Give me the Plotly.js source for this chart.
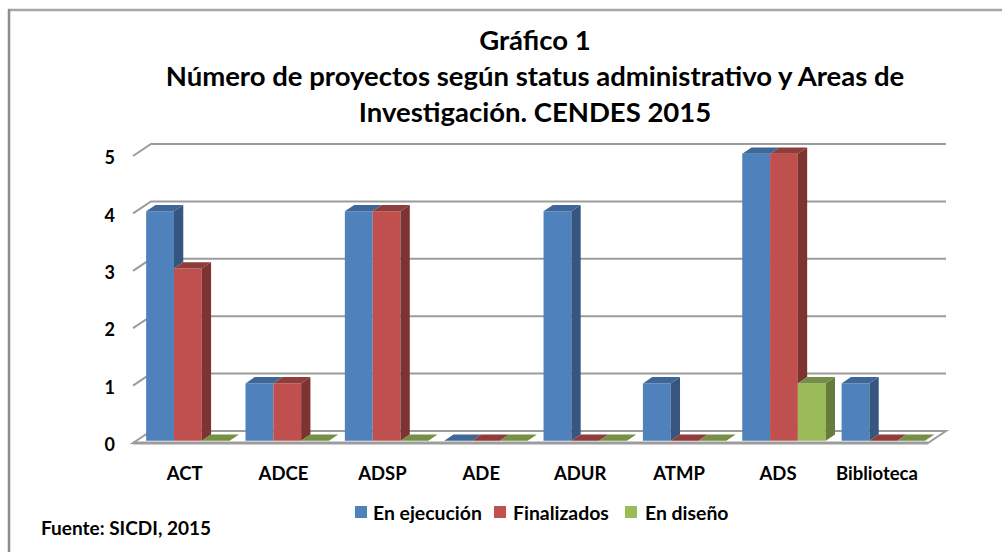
<!DOCTYPE html>
<html>
<head>
<meta charset="utf-8">
<script src="https://cdn.plot.ly/plotly-3.0.1.min.js"></script>
<style>html,body{margin:0;padding:0;background:#fff;overflow:hidden}</style>
</head>
<body>
<div id="chart" style="width:1002px;height:552px"></div>
<script>
// ---- data ----
const categories = ["ACT","ADCE","ADSP","ADE","ADUR","ATMP","ADS","Biblioteca"];
const enEjecucion = [4,1,4,0,4,1,5,1];
const finalizados = [3,1,4,0,0,0,5,0];
const enDiseno    = [0,0,0,0,0,0,1,0];
const yTicks = [0,1,2,3,4,5];
const seriesNames = ["En ejecución","Finalizados","En diseño"];

// ---- styling ----
const FONT = "Lato, Carlito, 'Open Sans', sans-serif";
const front = ["#4F81BD","#C0504D","#9BBB59"];
const side  = ["#36567F","#7C3331","#667C3A"];
const top_  = ["#3E6797","#8F3C3A","#758F45"];
const GRID = "#9C9C9C";

// pixel frame of the plot area
const L=125, R=955, T=125, B=450;
const X0PX=138.2, XSTEP=99.35, Y0PX=440.8, YSTEP=57.4;
const xOf = px => (px-X0PX)/XSTEP-0.5;
const yOf = px => (Y0PX-px)/YSTEP;
const xp = px => (px-L)/(R-L);
const yp = px => (B-px)/(B-T);

// pseudo-3D depth, in data units
const barW=0.28, groupW=0.84;
const dX=9.3/XSTEP, dY=6.3/YSTEP;
const floorL=xOf(133), floorBL=xOf(151), floorBR=xOf(946), floorR=xOf(928);
const frontDY=yOf(443), backDY=yOf(431);

const allSeries=[enEjecucion,finalizados,enDiseno];
const traces=[];
allSeries.forEach((vals,j)=>{
  traces.push({type:"bar",name:seriesNames[j],x:categories.map((c,i)=>i),y:vals,
    marker:{color:front[j]},hoverinfo:"y+name"});
});
allSeries.forEach((vals,j)=>{
  const sx=[],sy=[],tx=[],ty=[];
  vals.forEach((v,i)=>{
    const x0=i-groupW/2+j*barW, x1=x0+barW;
    const next=j<2?allSeries[j+1][i]:0;
    if(v>next){
      sx.push(x1,x1+dX,x1+dX,x1,x1,null);
      sy.push(v,v+dY,next+dY,next,v,null);
    }
    tx.push(x0,x1,x1+dX,x0+dX,x0,null);
    ty.push(v,v,v+dY,v+dY,v,null);
  });
  traces.push({type:"scatter",mode:"none",fill:"toself",fillcolor:side[j],x:sx,y:sy,showlegend:false,hoverinfo:"skip"});
  traces.push({type:"scatter",mode:"none",fill:"toself",fillcolor:top_[j],x:tx,y:ty,showlegend:false,hoverinfo:"skip"});
});

// walls, floor, frame
const shapes=[];
yTicks.filter(v=>v>0).forEach(v=>{
  shapes.push({type:"path",layer:"below",xref:"x",yref:"y",
    path:`M ${floorL} ${v+frontDY} L ${floorBL} ${v+backDY} L ${floorBR} ${v+backDY}`,
    line:{color:GRID,width:2}});
});
shapes.push({type:"path",layer:"below",xref:"x",yref:"y",
  path:`M ${floorL} ${frontDY} L ${floorBL} ${backDY} L ${floorBR} ${backDY} L ${floorR} ${frontDY} Z`,
  fillcolor:"#ffffff",line:{color:GRID,width:2}});
shapes.push({type:"line",layer:"below",xref:"x",yref:"y",x0:floorL,x1:floorR,y0:frontDY,y1:frontDY,
  line:{color:GRID,width:3}});
// chart frame: top and left edges only
shapes.push({type:"line",xref:"paper",yref:"paper",x0:xp(8),x1:xp(1002),y0:yp(10),y1:yp(10),line:{color:"#A6A6A6",width:2.5}});
shapes.push({type:"line",xref:"paper",yref:"paper",x0:xp(9),x1:xp(9),y0:yp(9),y1:yp(552),line:{color:"#8C8C8C",width:2.5}});

// legend entries
const legendSwatch=[355,494,625], legendText=[371,511,642.5], LEG_Y=512;
const annotations=[];
seriesNames.forEach((n,j)=>{
  shapes.push({type:"rect",xref:"paper",yref:"paper",
    x0:xp(legendSwatch[j]),x1:xp(legendSwatch[j]+12),y0:yp(LEG_Y-6),y1:yp(LEG_Y+6),
    fillcolor:front[j],line:{width:0}});
  annotations.push({xref:"paper",yref:"paper",x:xp(legendText[j]),y:yp(LEG_Y),xanchor:"left",yanchor:"middle",
    text:n,showarrow:false,font:{family:FONT,size:19.4,weight:700,color:"#000"}});
});
annotations.push({xref:"paper",yref:"paper",x:xp(39),y:yp(527),xanchor:"left",yanchor:"middle",
  text:"Fuente: SICDI, 2015",showarrow:false,font:{family:FONT,size:19,weight:700,color:"#000"}});

const layout={
  width:1002,height:552,autosize:false,
  margin:{l:L,r:1002-R,t:T,b:552-B,pad:0},
  paper_bgcolor:"#fff",plot_bgcolor:"rgba(0,0,0,0)",
  showlegend:false,
  barmode:"group",bargap:1-groupW,bargroupgap:0,
  title:{text:"Gráfico 1<br>Número de proyectos según status administrativo y Areas de<br>Investigación. CENDES 2015",
    x:535/1002,xref:"container",xanchor:"center",y:1-50/552,yref:"container",yanchor:"top",
    font:{family:FONT,size:27.5,weight:700,color:"#000"}},
  xaxis:{range:[xOf(L),xOf(R)],tickmode:"array",tickvals:categories.map((c,i)=>xOf(184.6+98.9*i)),ticktext:categories,
    showgrid:false,zeroline:false,showline:false,ticks:"",ticklabelstandoff:10,
    tickfont:{family:FONT,size:18.5,weight:700,color:"#000"},fixedrange:true},
  yaxis:{range:[yOf(B),yOf(T)],tickmode:"array",tickvals:yTicks.map(v=>v-0.07),ticktext:yTicks.map(String),
    showgrid:false,zeroline:false,showline:false,ticks:"",ticklabelstandoff:9,
    tickfont:{family:FONT,size:18,weight:700,color:"#000"},fixedrange:true},
  shapes,annotations
};
Plotly.newPlot("chart",traces,layout,{displayModeBar:false,staticPlot:true});
</script>
</body>
</html>
